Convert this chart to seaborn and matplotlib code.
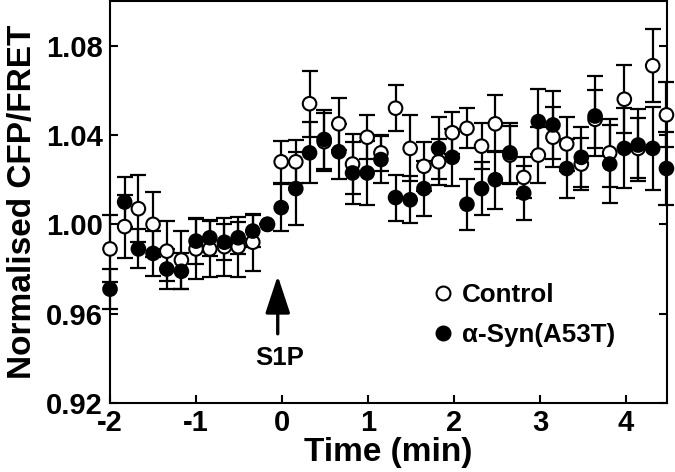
import numpy as np
import pandas as pd
import matplotlib
matplotlib.use("Agg")
import matplotlib.pyplot as plt
import seaborn as sns
from matplotlib.lines import Line2D

# ── Data ──────────────────────────────────────────────────────────────────────
TIME = [-2.00, -1.83, -1.67, -1.50, -1.34, -1.17, -1.00, -0.84, -0.67, -0.51,
        -0.34, -0.17, -0.01, 0.16, 0.32, 0.49, 0.66, 0.82, 0.99, 1.15,
        1.32, 1.49, 1.65, 1.82, 1.98, 2.15, 2.32, 2.48, 2.65, 2.81,
        2.98, 3.15, 3.31, 3.48, 3.64, 3.81, 3.98, 4.14, 4.31, 4.47]

CONTROL = [0.989, 0.999, 1.007, 1.000, 0.988, 0.984, 0.989, 0.989, 0.990, 0.990,
           0.992, 1.000, 1.028, 1.028, 1.054, 1.037, 1.045, 1.027, 1.039, 1.032,
           1.052, 1.034, 1.026, 1.028, 1.041, 1.043, 1.035, 1.045, 1.031, 1.021,
           1.031, 1.039, 1.036, 1.027, 1.047, 1.032, 1.056, 1.034, 1.071, 1.049]
CONTROL_ERR = [0.015, 0.014, 0.015, 0.0145, 0.0135, 0.013, 0.0135, 0.0125, 0.013, 0.0135,
               0.0127, 0.0, 0.0094, 0.0097, 0.0148, 0.013, 0.0117, 0.0134, 0.0099, 0.008,
               0.0102, 0.0148, 0.0109, 0.0103, 0.0094, 0.009, 0.0102, 0.0127, 0.013, 0.0092,
               0.0124, 0.0134, 0.012, 0.0116, 0.013, 0.0152, 0.0152, 0.0134, 0.0164, 0.0145]

SYN = [0.971, 1.010, 0.989, 0.987, 0.980, 0.979, 0.9925, 0.994, 0.992, 0.994,
       0.997, 1.000, 1.0075, 1.016, 1.032, 1.038, 1.0325, 1.023, 1.023, 1.029,
       1.012, 1.011, 1.016, 1.034, 1.030, 1.009, 1.016, 1.020, 1.032, 1.014,
       1.046, 1.0445, 1.025, 1.030, 1.0485, 1.027, 1.034, 1.0355, 1.034, 1.025]
SYN_ERR = [0.009, 0.011, 0.0087, 0.010, 0.009, 0.008, 0.0103, 0.008, 0.008, 0.0072,
           0.007, 0.0, 0.0104, 0.0164, 0.0137, 0.0134, 0.0124, 0.0137, 0.0143, 0.0107,
           0.0103, 0.0105, 0.0124, 0.0139, 0.0127, 0.0115, 0.012, 0.013, 0.0134, 0.0122,
           0.0145, 0.0152, 0.0134, 0.0134, 0.0179, 0.0176, 0.0179, 0.016, 0.0184, 0.0164]

GROUPS = ["Control", "\u03b1-Syn(A53T)"]
X_TICKS = [-2, -1, 0, 1, 2, 3, 4]
Y_TICKS = [0.92, 0.96, 1.00, 1.04, 1.08]

# ── Style ─────────────────────────────────────────────────────────────────────
sns.set_style("ticks")
plt.rcParams["font.family"] = ["Liberation Sans", "DejaVu Sans"]
plt.rcParams["font.weight"] = "bold"
for key in ["text.color", "axes.labelcolor", "xtick.color", "ytick.color", "axes.edgecolor"]:
    plt.rcParams[key] = "black"

df = pd.DataFrame({
    "time": TIME + TIME,
    "ratio": CONTROL + SYN,
    "err": CONTROL_ERR + SYN_ERR,
    "group": [GROUPS[0]] * len(TIME) + [GROUPS[1]] * len(TIME),
})

fig = plt.figure(figsize=(6.75, 4.72), dpi=100)
ax = fig.add_axes([0.163, 0.146, 0.825, 0.852])

# error bars first, markers on top (filled drawn over open)
for g in GROUPS:
    sub = df[df["group"] == g]
    ax.errorbar(sub["time"], sub["ratio"], yerr=sub["err"], fmt="none",
                ecolor="black", elinewidth=1.6, capsize=5.5, capthick=1.6,
                zorder=2, clip_on=False)

sns.scatterplot(data=df, x="time", y="ratio", hue="group",
                palette={GROUPS[0]: "white", GROUPS[1]: "black"},
                edgecolor="black", linewidth=1.5, s=95, legend=False,
                zorder=3, clip_on=False, ax=ax)

ax.set_xlim(-2.0, 4.475)
ax.set_ylim(0.92, 1.10)
ax.set_xticks(X_TICKS)
ax.set_xticklabels([str(t) for t in X_TICKS])
ax.set_yticks(Y_TICKS)
ax.set_yticklabels([f"{v:.2f}" for v in Y_TICKS])
ax.tick_params(direction="in", length=6, width=1.5, labelsize=21, pad=5,
               right=True, top=False)
ax.tick_params(axis="x", pad=4)
for s in ax.spines.values():
    s.set_linewidth(1.5)
    s.set_visible(True)

ax.set_xlabel("Time (min)", fontsize=24, fontweight="bold", labelpad=0)
ax.set_ylabel("Normalised CFP/FRET", fontsize=24, fontweight="bold", labelpad=6)

# S1P application arrow
ax.annotate("", xy=(-0.05, 0.977), xytext=(-0.05, 0.951),
            arrowprops=dict(arrowstyle="-|>,head_length=1.15,head_width=0.38",
                            lw=2.4, color="black", mutation_scale=20,
                            shrinkA=0, shrinkB=0))
ax.text(-0.03, 0.9403, "S1P", ha="center", va="center", fontsize=18.5,
        fontweight="bold")

handles = [
    Line2D([], [], ls="none", marker="o", markersize=10, markerfacecolor="white",
           markeredgecolor="black", markeredgewidth=1.5),
    Line2D([], [], ls="none", marker="o", markersize=10, markerfacecolor="black",
           markeredgecolor="black", markeredgewidth=1.5),
]
leg = ax.legend(handles, GROUPS, loc="upper left", bbox_to_anchor=(0.579, 0.298),
                frameon=False, fontsize=18.7, handlelength=0.8, handletextpad=0.33,
                labelspacing=0.62, borderpad=0, borderaxespad=0)
for t in leg.get_texts():
    t.set_fontweight("bold")

fig.savefig("out.png", dpi=100)
